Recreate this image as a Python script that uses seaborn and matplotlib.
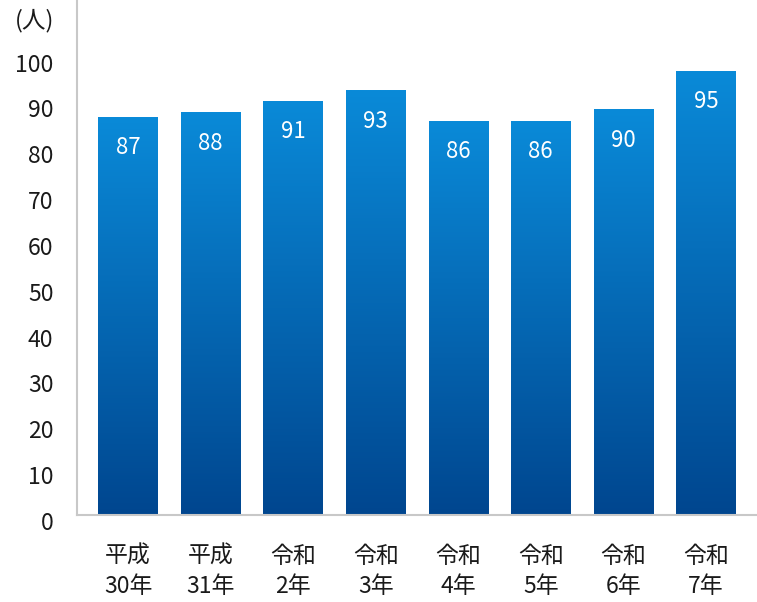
import matplotlib.pyplot as plt
import matplotlib.transforms as mtransforms
from matplotlib.colors import LinearSegmentedColormap
import seaborn as sns
import numpy as np
import pandas as pd

# Data
years = ["平成\n30年", "平成\n31年", "令和\n2年", "令和\n3年",
         "令和\n4年", "令和\n5年", "令和\n6年", "令和\n7年"]
counts = [87, 88, 91, 93, 86, 86, 90, 95]               # printed labels
bar_heights = [86.8, 87.7, 90.3, 92.5, 85.9, 85.9, 88.4, 96.8]  # drawn heights
y_ticks = [0, 10, 20, 30, 40, 50, 60, 70, 80, 90, 100]

sns.set_theme(style="white")
plt.rcParams['font.family'] = ['Noto Sans CJK JP', 'DejaVu Sans']

fig = plt.figure(figsize=(7.57, 6.02), dpi=100)
ax = fig.add_axes([0.1017, 0.1453, 0.8983, 0.8530])

df = pd.DataFrame({"year": years, "height": bar_heights})
sns.barplot(data=df, x="year", y="height", color="#0a86d4",
            width=0.72, saturation=1, ax=ax)

# vertical gradient fill for each bar
cmap = LinearSegmentedColormap.from_list("blue", ["#00468f", "#0a8ad8"])
grad = np.linspace(0, 1, 256).reshape(-1, 1)
for patch, c in zip(ax.patches, counts):
    x, w, h = patch.get_x(), patch.get_width(), patch.get_height()
    im = ax.imshow(grad, extent=[x, x + w, 0, h], origin="lower",
                   aspect="auto", cmap=cmap, zorder=patch.get_zorder())
    im.set_clip_path(patch)
    patch.set_facecolor("none")
    patch.set_edgecolor("none")
    ax.annotate(str(c), (x + w / 2, h), xytext=(0, -22.5),
                textcoords="offset points", ha="center", va="center",
                color="white", fontsize=16)

ax.set_xlim(-0.62, 7.62)
ax.set_ylim(0, 112)
ax.set_yticks(y_ticks)
ax.set_xlabel("")
ax.set_ylabel("")

for side in ["top", "right"]:
    ax.spines[side].set_visible(False)
for side in ["left", "bottom"]:
    ax.spines[side].set_color("#c8c8c8")
    ax.spines[side].set_linewidth(1.5)

ax.tick_params(axis="y", length=0, pad=17, labelsize=16.5, colors="#1a1a1a")
ax.tick_params(axis="x", length=0, pad=22, labelsize=16.5, colors="#1a1a1a")
for lab in ax.get_xticklabels():
    lab.set_linespacing(1.4)

fig.text(0.02, 0.965, "(人)", fontsize=17, color="#1a1a1a",
         ha="left", va="center")

fig.canvas.draw()
shift = mtransforms.ScaledTranslation(0, -6.5 / 100, fig.dpi_scale_trans)
for lab in ax.get_yticklabels():
    lab.set_transform(lab.get_transform() + shift)

fig.savefig("out.png", dpi=100)
